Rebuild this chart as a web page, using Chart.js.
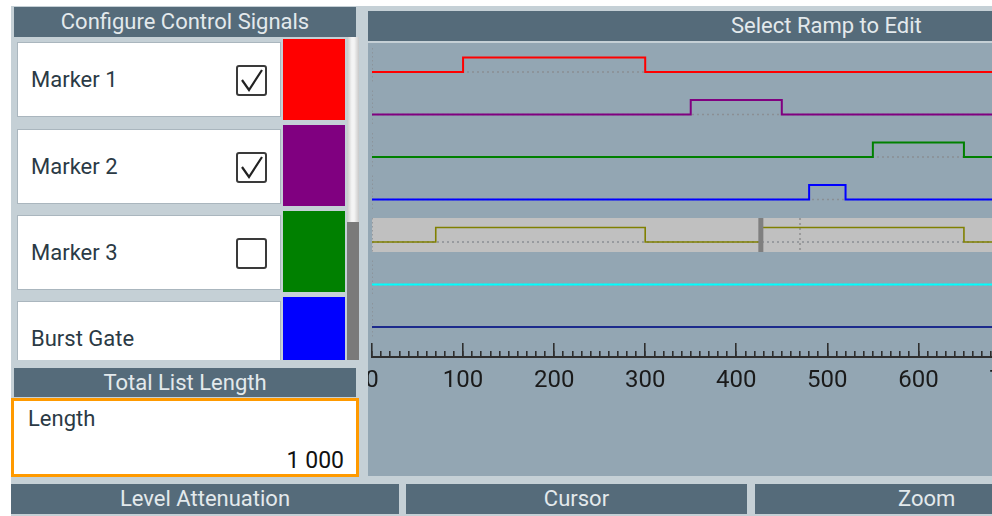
<!DOCTYPE html>
<html>
<head>
<meta charset="utf-8">
<script src="https://cdn.jsdelivr.net/npm/chart.js@4"></script>
<style>
  html, body { margin: 0; padding: 0; }
  body { width: 992px; height: 516px; overflow: hidden; background: #fff; position: relative; font-family: Roboto, "Noto Sans", sans-serif; }
  .frame { position: absolute; left: 11px; top: 6px; width: 981px; height: 510px; background: #c5d0d6; }
  .hdr { position: absolute; background: #556b7a; color: #e3e9ec; font-size: 22px; line-height: 29px; text-align: center; white-space: nowrap; overflow: hidden; }
  .row { position: absolute; left: 17px; width: 262px; height: 73px; background: #fff; border: 1px solid #aab6be; }
  .row span { position: absolute; left: 13px; top: 0; line-height: 73px; font-size: 22px; color: #2b3a45; }
  .chk { position: absolute; left: 218px; top: 22px; width: 27px; height: 27px; border: 2px solid #3a3a3a; border-radius: 3px; background: #fff; }
  .sw { position: absolute; left: 283px; width: 62px; height: 81px; }
  .list { position: absolute; left: 0; top: 37px; width: 366px; height: 323px; overflow: hidden; }
  .plot { position: absolute; left: 368px; top: 43px; width: 624px; height: 433px; background: #93a6b3; overflow: hidden; }
  .plot canvas { position: absolute; left: -8px; top: 0; }
</style>
</head>
<body>
<div class="frame"></div>

<div class="hdr" style="left:14px;top:7px;width:342px;height:30px;">Configure Control Signals</div>
<div class="list">
  <div class="row" style="top:5px;"><span>Marker 1</span>
    <div class="chk"><svg width="27" height="27"><polyline points="4,13 11,23 24,3" fill="none" stroke="#222" stroke-width="2.2"/></svg></div></div>
  <div class="sw" style="top:2px;background:#ff0000;"></div>
  <div class="row" style="top:92px;"><span>Marker 2</span>
    <div class="chk"><svg width="27" height="27"><polyline points="4,13 11,23 24,3" fill="none" stroke="#222" stroke-width="2.2"/></svg></div></div>
  <div class="sw" style="top:88px;background:#800080;"></div>
  <div class="row" style="top:178px;"><span>Marker 3</span><div class="chk"></div></div>
  <div class="sw" style="top:174px;background:#008000;"></div>
  <div class="row" style="top:264px;"><span>Burst Gate</span></div>
  <div class="sw" style="top:260px;background:#0000ff;"></div>
  <div style="position:absolute;left:347px;top:0;width:12px;height:185px;background:linear-gradient(to right,#c8c8c8,#f4f4f4 40%,#f4f4f4 60%,#c8c8c8);"></div>
  <div style="position:absolute;left:347px;top:185px;width:12px;height:138px;background:#7a7a7a;"></div>
</div>

<div class="hdr" style="left:14px;top:368px;width:342px;height:29px;">Total List Length</div>
<div style="position:absolute;left:11px;top:398px;width:342px;height:73px;background:#fff;border:3px solid #ff9a00;">
  <div style="position:absolute;left:14px;top:5px;font-size:22px;color:#2b3a45;">Length</div>
  <div style="position:absolute;right:12px;top:46px;font-size:23px;color:#111;">1 000</div>
</div>

<div class="hdr" style="left:368px;top:11px;width:624px;height:30px;"><span style="position:absolute;left:363px;">Select Ramp to Edit</span></div>
<div class="plot"><canvas id="rampChart" width="695" height="433"></canvas></div>

<div class="hdr" style="left:11px;top:484px;width:388px;height:30px;">Level Attenuation</div>
<div class="hdr" style="left:406px;top:484px;width:341px;height:30px;">Cursor</div>
<div class="hdr" style="left:755px;top:484px;width:237px;height:30px;"><span style="position:absolute;left:143px;">Zoom</span></div>

<script>
// ramp list data (sample positions where each signal toggles, starting low)
const listLength = 1000;
const marker1Edges = [100, 300];
const marker2Edges = [350, 450];
const marker3Edges = [550, 650];
const burstGateEdges = [480, 520];
const levelAttEdges = [70, 300, 427, 650];
const cwModeEdges = [];
const hopEdges = [];
const signalColors = ['#ff0000', '#800080', '#008000', '#0000ff', '#808000', '#00ffff', '#1c2a8c'];
const cursorPos = 427;
const markerPos = 470;
const selectedRow = 4;

// layout of the lanes (in y-scale units, one unit per lane)
const Y_MIN = -0.682;
const Y_MAX = 9.506;
const AXIS_Y = 6.706;
const PULSE = 0.341;
const LANE_TOP = -0.565;
const LANE_BOTTOM = 0.235;

const allEdges = [marker1Edges, marker2Edges, marker3Edges, burstGateEdges, levelAttEdges, cwModeEdges, hopEdges];

const stepPoints = (edges, row) => {
    const pts = [{ x: 0, y: row }];
    let level = 0;
    edges.forEach(e => {
        level = 1 - level;
        pts.push({ x: e, y: row - level * PULSE });
    });
    pts.push({ x: listLength, y: row - level * PULSE });
    return pts;
};

const datasets = [];

// cursor and dotted marker in the selected lane
datasets.push({
    data: [{ x: cursorPos, y: selectedRow + LANE_TOP }, { x: cursorPos, y: selectedRow + LANE_BOTTOM }],
    borderColor: '#7f7f7f', borderWidth: 5, pointRadius: 0
});

allEdges.forEach((edges, i) => {
    datasets.push({
        data: stepPoints(edges, i),
        stepped: true,
        borderColor: signalColors[i],
        borderWidth: i === selectedRow ? 1.6 : 2,
        pointRadius: 0
    });
});

datasets.push({
    data: [{ x: markerPos, y: selectedRow + LANE_TOP }, { x: markerPos, y: selectedRow + LANE_BOTTOM }],
    borderColor: '#9a9a9a', borderWidth: 2, borderDash: [2, 3], pointRadius: 0
});

// dotted baselines and lane starts
const baseLines = [];
const laneStarts = [];
allEdges.forEach((edges, i) => {
    baseLines.push({ x: 0, y: i }, { x: listLength, y: i }, { x: listLength, y: null });
    laneStarts.push({ x: 0, y: i + LANE_TOP }, { x: 0, y: i + LANE_BOTTOM }, { x: 0, y: null });
});
datasets.push({ data: baseLines, borderColor: '#8a8f94', borderWidth: 1.5, borderDash: [2, 3], pointRadius: 0, spanGaps: false });
datasets.push({ data: laneStarts, borderColor: '#8a8f94', borderWidth: 1.5, borderDash: [1.5, 2.5], pointRadius: 0, spanGaps: false });

// selected lane highlight
datasets.push({
    data: [{ x: 0, y: selectedRow + LANE_TOP }, { x: listLength, y: selectedRow + LANE_TOP }],
    borderWidth: 0, pointRadius: 0, fill: '+1', backgroundColor: '#c0c0c0'
});
datasets.push({
    data: [{ x: 0, y: selectedRow + LANE_BOTTOM }, { x: listLength, y: selectedRow + LANE_BOTTOM }],
    borderWidth: 0, pointRadius: 0
});

const noPad = (scale) => { scale.paddingLeft = 0; scale.paddingRight = 0; };

new Chart(document.getElementById('rampChart').getContext('2d'), {
    type: 'line',
    data: { datasets },
    options: {
        responsive: false,
        animation: false,
        layout: { padding: { left: 12, right: 0, top: 0, bottom: 0 } },
        plugins: { legend: { display: false }, tooltip: { enabled: false } },
        scales: {
            y: { display: false, reverse: true, min: Y_MIN, max: Y_MAX },
            x: {
                type: 'linear', min: 0, max: 750,
                position: { y: AXIS_Y },
                afterFit: noPad,
                border: { display: true, color: '#2e2e2e', width: 2 },
                grid: { drawOnChartArea: false, tickLength: -7, color: '#2e2e2e', lineWidth: 1.6 },
                ticks: {
                    stepSize: 10, autoSkip: false, maxRotation: 0, padding: 17,
                    color: '#1a1a1a', font: { family: 'Roboto', size: 24 },
                    callback: (v) => (v % 100 === 0 ? v : '')
                }
            },
            xMajor: {
                axis: 'x', type: 'linear', min: 0, max: 750,
                position: { y: AXIS_Y },
                afterFit: noPad,
                border: { display: false },
                grid: { drawOnChartArea: false, tickLength: -14, color: '#2e2e2e', lineWidth: 1.6 },
                ticks: { stepSize: 100, display: false }
            }
        }
    }
});
</script>
</body>
</html>
